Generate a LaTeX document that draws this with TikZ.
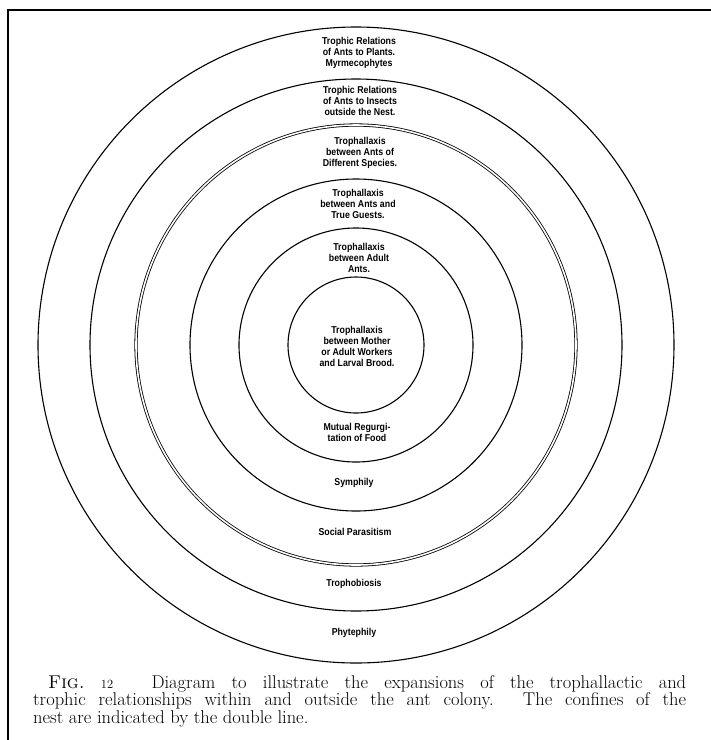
\documentclass[tikz,border=0pt]{standalone}
\usepackage{fontspec}
\newfontfamily\bandfont[FakeStretch=0.88]{Liberation Sans}

\begin{document}
\begin{tikzpicture}
[x=1pt,y=-1pt,ring/.style={draw,line width=1.1pt},band/.style={font=\bandfont\bfseries\fontsize{10}{11}\selectfont,align=center,inner sep=0pt},]

%Radii of the rings
\def\ra{318}
\def\rb{266}
\def\rc{220}
\def\rd{166}
\def\re{117}
\def\rf{68}

%Page and frame
\useasboundingbox (0,0) rectangle (711,740);
\draw[line width=1.8pt] (8,740) -- (8,10) -- (711,10);

%Centre of the rings
\coordinate (C) at (356,345);

%Drawing rings, the nest is the double one
\draw[ring] (C) circle[radius=\ra pt];
\draw[ring] (C) circle[radius=\rb pt];
\draw[draw,double,double distance=1.6pt,line width=0.8pt] (C) circle[radius=\rc pt];
\draw[ring] (C) circle[radius=\rd pt];
\draw[ring] (C) circle[radius=\re pt];
\draw[ring] (C) circle[radius=\rf pt];

%Labels above the centre
\node (plants) at (359,53)[band] {Trophic Relations\\of Ants to Plants.\\Myrmecophytes};
\node (insects) at (360,101)[band] {Trophic Relations\\of Ants to Insects\\outside the Nest.};
\node (species) at (360,153)[band] {Trophallaxis\\between Ants of\\Different Species.};
\node (guests) at (358,204)[band] {Trophallaxis\\between Ants and\\True Guests.};
\node (adult) at (359,258)[band] {Trophallaxis\\between Adult\\Ants.};
\node (brood) at (357,346)[band] {Trophallaxis\\between Mother\\or Adult Workers\\and Larval Brood.};

%Labels below the centre
\node (mutual) at (357,432)[band] {Mutual Regurgi-\\tation of Food};
\node (symphily) at (354,483)[band] {Symphily};
\node (parasit) at (355,532)[band] {Social Parasitism};
\node (trophob) at (354,584)[band] {Trophobiosis};
\node (phyte) at (354,633)[band] {Phytephily};

%Caption
\node (caption) at (33,675)[anchor=north west,inner sep=0pt,text width=653pt,align=justify,font=\fontsize{18.5}{16}\selectfont]
{\hspace*{15pt}\textsc{Fig.}~{\fontsize{12.5}{16}\selectfont 12}\hspace{1.2em} Diagram to illustrate the expansions of the trophallactic and\linebreak trophic relationships within and outside the ant colony. The confines of the\linebreak nest are indicated by the double line.};

\end{tikzpicture}
\end{document}
